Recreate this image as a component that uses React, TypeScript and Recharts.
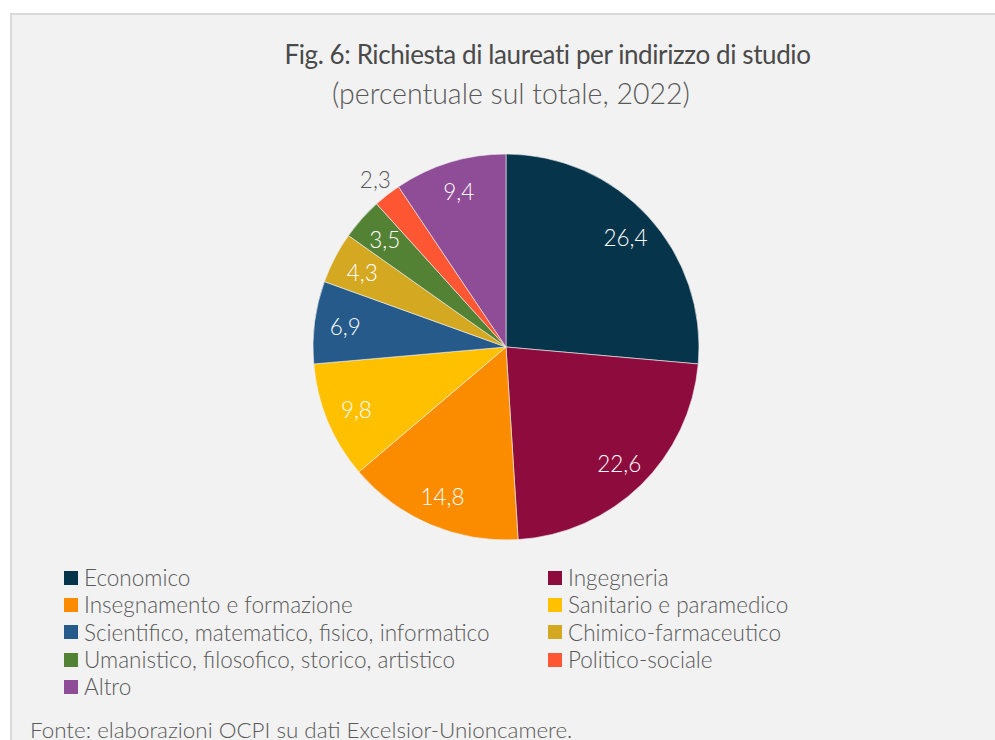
import { PieChart, Pie, Cell, Legend } from "recharts";

const categories = [
  "Economico",
  "Ingegneria",
  "Insegnamento e formazione",
  "Sanitario e paramedico",
  "Scientifico, matematico, fisico, informatico",
  "Chimico-farmaceutico",
  "Umanistico, filosofico, storico, artistico",
  "Politico-sociale",
  "Altro",
];
const shares = [26.4, 22.6, 14.8, 9.8, 6.9, 4.3, 3.5, 2.3, 9.4];
const colors = ["#06344b", "#8e0b3e", "#fb8c00", "#ffc000", "#255a8a", "#d4a820", "#548235", "#ff5733", "#8e4d96"];
// slices too thin for an inside label
const outsideLabels = ["Politico-sociale"];

const data = categories.map((name, i) => ({ name, value: shares[i] }));

const FONT = "Lato, 'Open Sans', sans-serif";
const RADIAN = Math.PI / 180;

const renderLabel = (props: any) => {
  const { cx, cy, midAngle, outerRadius, index } = props;
  const outside = outsideLabels.includes(categories[index]);
  const r = outside ? outerRadius * 1.1 : outerRadius * 0.84;
  const x = cx + r * Math.cos(-midAngle * RADIAN);
  const y = cy + r * Math.sin(-midAngle * RADIAN);
  return (
    <text
      x={x}
      y={y}
      fill={outside ? "#595959" : "#ffffff"}
      textAnchor="middle"
      dominantBaseline="central"
      fontFamily={FONT}
      fontSize={22.5}
      fontWeight={300}
    >
      {shares[index].toFixed(1).replace(".", ",")}
    </text>
  );
};

// legend keeps the data order (two columns, row by row)
const renderLegend = () => (
  <div style={{ display: "grid", gridTemplateColumns: "484px 400px", fontFamily: FONT, fontSize: 22.5, fontWeight: 300, color: "#595959" }}>
    {categories.map((name, i) => (
      <div key={name} style={{ display: "flex", alignItems: "center", height: 27.3 }}>
        <span style={{ width: 14, height: 14, background: colors[i], marginRight: 6, flexShrink: 0 }} />
        <span style={{ whiteSpace: "nowrap" }}>{name}</span>
      </div>
    ))}
  </div>
);

export default function App() {
  return (
    <div style={{ position: "fixed", left: 0, top: 0, width: 995, height: 740, background: "#ffffff", overflow: "hidden" }}>
      <div
        style={{
          position: "absolute",
          left: 10,
          top: 13,
          width: 1100,
          height: 900,
          background: "#f2f2f2",
          borderLeft: "2px solid #d9d9d9",
          borderTop: "2px solid #d9d9d9",
        }}
      />
      <div style={{ position: "absolute", left: 0, top: 0 }}>
        <PieChart width={995} height={740} margin={{ top: 0, right: 0, bottom: 0, left: 0 }}>
          <Pie
            data={data}
            dataKey="value"
            nameKey="name"
            cx={506}
            cy={347}
            outerRadius={193}
            startAngle={90}
            endAngle={-270}
            stroke="#f2f2f2"
            strokeWidth={0.6}
            label={renderLabel}
            labelLine={false}
            isAnimationActive={false}
          >
            {data.map((d, i) => (
              <Cell key={d.name} fill={colors[i]} />
            ))}
          </Pie>
          <Legend content={renderLegend} wrapperStyle={{ position: "absolute", left: 64, top: 564, width: 900 }} />
        </PieChart>
      </div>
      <div
        style={{
          position: "absolute",
          left: 0,
          width: 1095,
          top: 38,
          textAlign: "center",
          fontFamily: FONT,
          fontSize: 26,
          letterSpacing: -0.4,
          color: "#4a4a4a",
          whiteSpace: "nowrap",
        }}
      >
        Fig. 6: Richiesta di laureati per indirizzo di studio
      </div>
      <div
        style={{
          position: "absolute",
          left: 0,
          width: 1022,
          top: 76,
          textAlign: "center",
          fontFamily: FONT,
          fontSize: 28.5,
          fontWeight: 300,
          color: "#595959",
          whiteSpace: "nowrap",
        }}
      >
        (percentuale sul totale, 2022)
      </div>
      <div
        style={{
          position: "absolute",
          left: 30,
          top: 716,
          fontFamily: FONT,
          fontSize: 22.4,
          fontWeight: 300,
          color: "#595959",
          whiteSpace: "nowrap",
        }}
      >
        Fonte: elaborazioni OCPI su dati Excelsior-Unioncamere.
      </div>
    </div>
  );
}
